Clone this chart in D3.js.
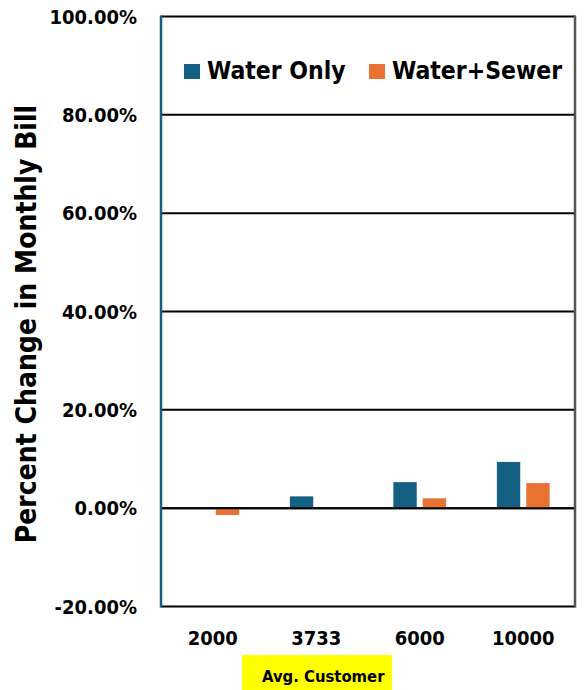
<!DOCTYPE html>
<html>
<head>
<meta charset="utf-8">
<script src="https://cdn.jsdelivr.net/npm/d3@7"></script>
<style>
  html, body { margin: 0; padding: 0; background: #fff; }
  svg { display: block; }
  text { font-family: "DejaVu Sans Condensed", "DejaVu Sans", sans-serif; font-stretch: condensed; font-weight: bold; fill: #000; }
</style>
</head>
<body>
<svg id="chart" width="584" height="690"></svg>
<script>
const categories = ["2000", "3733", "6000", "10000"];
const seriesNames = ["Water Only", "Water+Sewer"];
const waterOnly = [0, 2.4, 5.3, 9.4];
const waterSewer = [-1.4, 0, 2.0, 5.1];
const yTicks = [-20, 0, 20, 40, 60, 80, 100];
const colors = ["#156082", "#E97132"];

const svg = d3.select("#chart");
const plotLeft = 161, plotRight = 575, plotTop = 16.5, plotBottom = 606.5;

const x0 = d3.scaleBand().domain(categories).range([plotLeft, plotRight]).paddingInner(0.49).paddingOuter(0.245);
const x1 = d3.scaleBand().domain(seriesNames).range([0, x0.bandwidth()]).paddingInner(0.205);
const y = d3.scaleLinear().domain([-20, 100]).range([plotBottom, plotTop]);

// gridlines
svg.append("g").selectAll("line").data(yTicks.filter(t => t !== -20 && t !== 100)).join("line")
  .attr("x1", plotLeft).attr("x2", plotRight)
  .attr("y1", d => y(d)).attr("y2", d => y(d))
  .attr("stroke", "#000").attr("stroke-width", 2);

// bars
const data = categories.map((c, i) => ({ cat: c, vals: [waterOnly[i], waterSewer[i]] }));
const groups = svg.append("g").selectAll("g").data(data).join("g")
  .attr("transform", d => `translate(${x0(d.cat)},0)`);
groups.selectAll("rect").data(d => d.vals.map((v, j) => ({ v, s: seriesNames[j], j })))
  .join("rect")
  .attr("x", d => x1(d.s))
  .attr("width", x1.bandwidth())
  .attr("y", d => Math.min(y(d.v), y(0)))
  .attr("height", d => Math.abs(y(d.v) - y(0)))
  .attr("fill", d => colors[d.j]);

// redraw zero line over bars
svg.append("line").attr("x1", plotLeft).attr("x2", plotRight).attr("y1", y(0)).attr("y2", y(0))
  .attr("stroke", "#000").attr("stroke-width", 2);

// frame
svg.append("line").attr("x1", plotLeft).attr("x2", plotRight).attr("y1", y(100)).attr("y2", y(100))
  .attr("stroke", "#000").attr("stroke-width", 2);
svg.append("line").attr("x1", plotLeft).attr("x2", plotRight).attr("y1", y(-20)).attr("y2", y(-20))
  .attr("stroke", "#000").attr("stroke-width", 2);
svg.append("line").attr("x1", plotRight).attr("x2", plotRight).attr("y1", y(100) - 1).attr("y2", y(-20) + 1)
  .attr("stroke", "#555").attr("stroke-width", 2.5);
svg.append("line").attr("x1", plotLeft).attr("x2", plotLeft).attr("y1", y(100) - 1).attr("y2", y(-20) + 1)
  .attr("stroke", "#156082").attr("stroke-width", 2.5);

// y tick labels
svg.append("g").selectAll("text").data(yTicks).join("text")
  .attr("x", 137).attr("y", d => y(d)).attr("dy", "0.36em")
  .attr("text-anchor", "end").style("font-size", "20px")
  .text(d => d.toFixed(2) + "%");

// x labels
svg.append("g").selectAll("text").data(categories).join("text")
  .attr("x", d => x0(d) + x0.bandwidth() / 2).attr("y", 645)
  .attr("text-anchor", "middle").style("font-size", "20px")
  .text(d => d);

// y axis title
svg.append("text").attr("transform", "translate(36,324) rotate(-90)")
  .attr("text-anchor", "middle").style("font-size", "28px")
  .text("Percent Change in Monthly Bill");

// x axis label box
svg.append("rect").attr("x", 242).attr("y", 655).attr("width", 150).attr("height", 35).attr("fill", "#FFFF00");
svg.append("text").attr("x", 262).attr("y", 682).style("font-size", "16.5px").text("Avg. Customer");

// legend
const legendItems = [{ name: seriesNames[0], x: 184, tx: 207 }, { name: seriesNames[1], x: 369, tx: 392 }];
legendItems.forEach((d, i) => {
  svg.append("rect").attr("x", d.x).attr("y", 64).attr("width", 16).attr("height", 15).attr("fill", colors[i]);
  svg.append("text").attr("x", d.tx).attr("y", 79).style("font-size", "24.5px").text(d.name);
});
</script>
</body>
</html>
